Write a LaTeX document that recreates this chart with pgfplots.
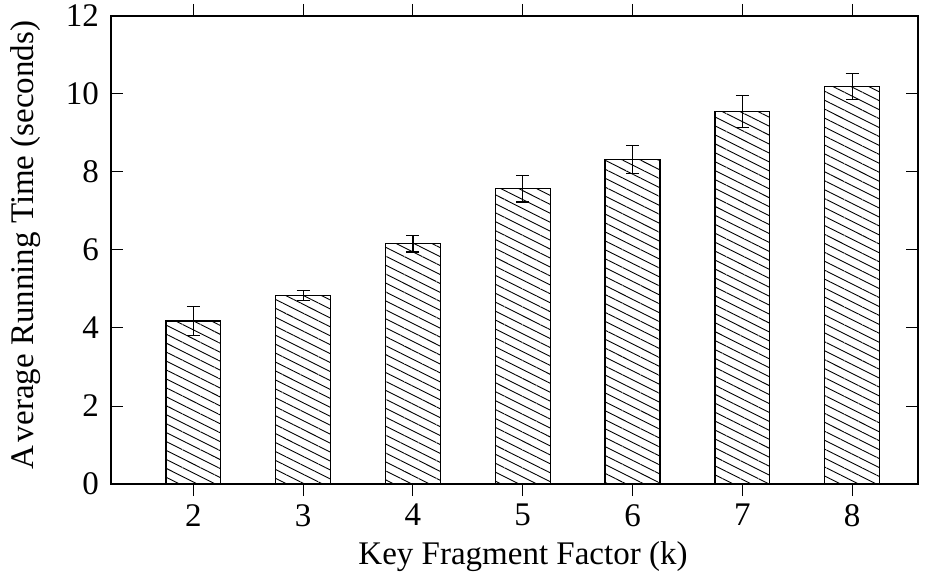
\documentclass[border=0pt]{standalone}
\usepackage{fontspec}
\setmainfont{Liberation Serif}
\usepackage{pgfplots}
\pgfplotsset{compat=1.18}
\usetikzlibrary{patterns.meta}
\newcommand{\bigf}{\fontsize{33bp}{40bp}\selectfont}
\begin{document}
\begin{tikzpicture}
\begin{axis}[
  scale only axis,
  width=807bp, height=468bp,
  at={(0,0)}, anchor=south west,
  xmin=1.25, xmax=8.6,
  ymin=0, ymax=12,
  xtick={2,3,4,5,6,7,8},
  ytick={0,2,4,6,8,10,12},
  tick align=inside,
  major tick length=12bp,
  tick style={black, line width=1bp},
  axis line style={black, line width=1.3bp},
  axis on top,
  /pgf/number format/assume math mode=true,
  tick label style={font=\bigf, inner sep=0pt},
  xticklabel style={anchor=north, yshift=-8bp},
  yticklabel style={anchor=east, xshift=-12bp},
  xlabel={Key Fragment Factor (k)},
  ylabel={A\kern0.12em verage Running Time (seconds)},
  label style={font=\bigf},
  xlabel style={at={(axis description cs:0.5105,-0.171)}, anchor=base},
  ylabel style={at={(axis description cs:-0.0955,0.51)}, anchor=base, rotate=0},
  ybar, bar width=0.5,
]
\addplot[draw=black, line width=1.3bp, fill=white,
  postaction={pattern={Lines[angle=-26.6,distance=8bp,line width=0.9bp]}, pattern color=black},
  error bars/.cd, y dir=both, y explicit,
  error bar style={line width=1.2bp, black},
  error mark options={rotate=90, mark size=6.5bp, line width=1.2bp, black}]
table[x=k, y=t, y error=e] {
k t e
2 4.18 0.38
3 4.83 0.135
4 6.16 0.21
5 7.57 0.34
6 8.32 0.36
7 9.56 0.41
8 10.19 0.34
};
\end{axis}
\pgfresetboundingbox
\path (-111bp,-89bp) rectangle (819bp,484bp);
\end{tikzpicture}
\end{document}
